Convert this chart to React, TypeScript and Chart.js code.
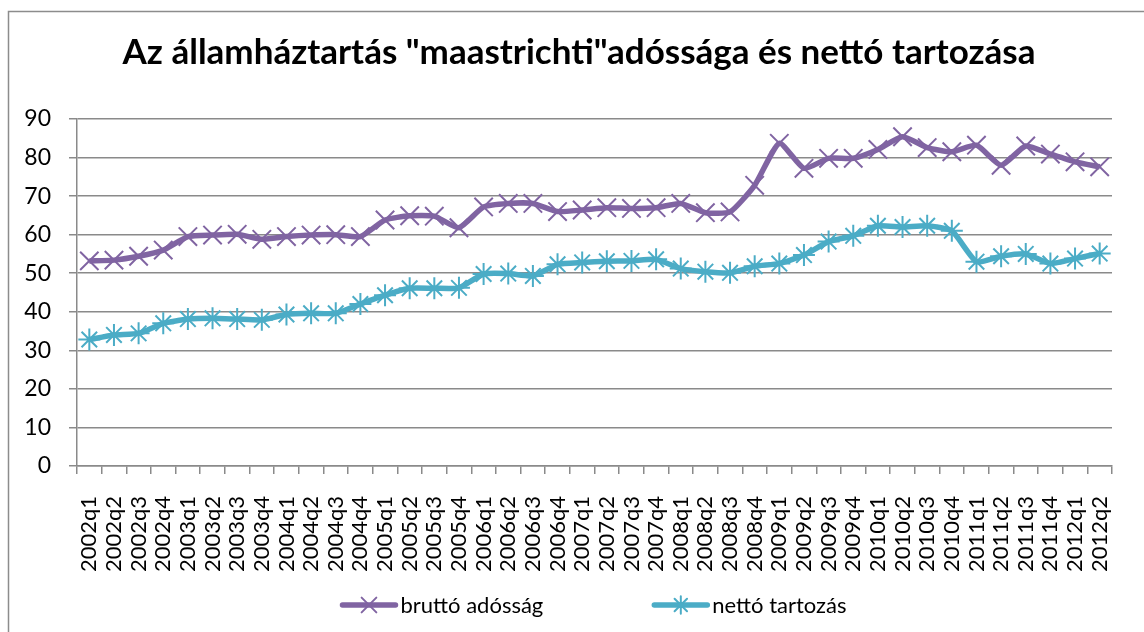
import React, { useEffect, useRef } from "react";
import { Chart, registerables } from "chart.js";
import { drawPoint } from "chart.js/helpers";

Chart.register(...registerables);

const categories = [
  "2002q1", "2002q2", "2002q3", "2002q4",
  "2003q1", "2003q2", "2003q3", "2003q4",
  "2004q1", "2004q2", "2004q3", "2004q4",
  "2005q1", "2005q2", "2005q3", "2005q4",
  "2006q1", "2006q2", "2006q3", "2006q4",
  "2007q1", "2007q2", "2007q3", "2007q4",
  "2008q1", "2008q2", "2008q3", "2008q4",
  "2009q1", "2009q2", "2009q3", "2009q4",
  "2010q1", "2010q2", "2010q3", "2010q4",
  "2011q1", "2011q2", "2011q3", "2011q4",
  "2012q1", "2012q2",
];

const bruttoAdossag = [
  53.2, 53.4, 54.4, 56.0,
  59.5, 59.9, 60.1, 58.8,
  59.5, 59.9, 60.0, 59.5,
  63.8, 64.9, 64.8, 61.8,
  67.2, 68.1, 68.1, 66.0,
  66.4, 67.0, 66.8, 67.0,
  68.1, 65.7, 65.9, 72.8,
  83.7, 77.2, 79.8, 79.8,
  82.1, 85.4, 82.6, 81.5,
  83.2, 78.0, 83.0, 80.9,
  78.9, 77.6,
];

const nettoTartozas = [
  32.8, 34.0, 34.4, 37.0,
  38.1, 38.3, 38.1, 37.9,
  39.3, 39.6, 39.6, 42.0,
  44.3, 46.1, 46.1, 46.2,
  49.8, 49.9, 49.3, 52.3,
  52.8, 53.1, 53.2, 53.6,
  51.2, 50.4, 50.1, 51.8,
  52.5, 54.7, 58.2, 59.7,
  62.3, 62.0, 62.3, 61.0,
  53.0, 54.4, 55.0, 52.5,
  53.8, 55.1,
];

const seriesNames = ["bruttó adósság", "nettó tartozás"];
const yTicks = [0, 10, 20, 30, 40, 50, 60, 70, 80, 90];
const titleText = 'Az államháztartás "maastrichti"adóssága és nettó tartozása';

const PURPLE = "#8064A2";
const TEAL = "#4BACC6";
const GRID = "#8a8a8a";
const FONT = "Lato, 'Open Sans', sans-serif";

export default function App() {
  const ref = useRef<HTMLCanvasElement | null>(null);

  useEffect(() => {
    const canvas = ref.current;
    if (!canvas) return;

    const framePlugin = {
      id: "frame",
      beforeDraw(chart: any) {
        const ctx = chart.ctx;
        ctx.save();
        ctx.fillStyle = "#ffffff";
        ctx.fillRect(0, 0, chart.width, chart.height);
        ctx.strokeStyle = "#8c8c8c";
        ctx.lineWidth = 1.5;
        ctx.strokeRect(8.5, 11.5, chart.width + 20, chart.height + 20);
        ctx.restore();
      },
    };

    const titlePlugin = {
      id: "customTitle",
      afterDraw(chart: any) {
        const ctx = chart.ctx;
        ctx.save();
        ctx.fillStyle = "#000";
        ctx.font = `bold 35px ${FONT}`;
        ctx.textAlign = "center";
        ctx.textBaseline = "alphabetic";
        ctx.fillText(titleText, 579, 64);
        ctx.restore();
      },
    };

    const legendPlugin = {
      id: "customLegend",
      afterDraw(chart: any) {
        const ctx = chart.ctx;
        ctx.save();
        ctx.font = `22px ${FONT}`;
        const lineLen = 53;
        const textGap = 5;
        const itemGap = 111;
        const items = chart.data.datasets.map((ds: any) => ({
          ds,
          w: lineLen + textGap + ctx.measureText(ds.label).width,
        }));
        const total = items.reduce((s: number, it: any) => s + it.w, 0) + itemGap * (items.length - 1);
        const cx = (chart.chartArea.left + chart.chartArea.right) / 2;
        let x = cx - total / 2;
        const y = 605;
        for (const it of items) {
          const ds = it.ds;
          ctx.strokeStyle = ds.borderColor;
          ctx.lineWidth = ds.borderWidth;
          ctx.lineCap = "round";
          ctx.beginPath();
          ctx.moveTo(x, y);
          ctx.lineTo(x + lineLen, y);
          ctx.stroke();
          ctx.strokeStyle = ds.pointBorderColor;
          ctx.fillStyle = ds.pointBorderColor;
          ctx.lineWidth = ds.pointBorderWidth;
          drawPoint(ctx, { pointStyle: ds.pointStyle, rotation: 0, borderWidth: ds.pointBorderWidth, radius: ds.pointRadius * 0.8 } as any, x + lineLen / 2, y);
          ctx.fillStyle = "#000";
          ctx.textAlign = "left";
          ctx.textBaseline = "middle";
          ctx.fillText(ds.label, x + lineLen + textGap, y + 1);
          x += it.w + itemGap;
        }
        ctx.restore();
      },
    };

    const chart = new Chart(canvas, {
      type: "line",
      data: {
        labels: categories,
        datasets: [
          {
            label: seriesNames[0],
            data: bruttoAdossag,
            borderColor: PURPLE,
            backgroundColor: PURPLE,
            borderWidth: 5.5,
            tension: 0.18,
            pointStyle: "crossRot",
            pointRadius: 13,
            pointBorderWidth: 2,
            pointBorderColor: PURPLE,
            pointBackgroundColor: PURPLE,
            pointHoverRadius: 13,
          },
          {
            label: seriesNames[1],
            data: nettoTartozas,
            borderColor: TEAL,
            backgroundColor: TEAL,
            borderWidth: 5.5,
            tension: 0.18,
            pointStyle: "star",
            pointRadius: 11,
            pointBorderWidth: 2,
            pointBorderColor: TEAL,
            pointBackgroundColor: TEAL,
            pointHoverRadius: 11,
          },
        ],
      },
      options: {
        animation: false,
        responsive: false,
        maintainAspectRatio: false,
        devicePixelRatio: 1,
        layout: { padding: { top: 119, right: 32, bottom: 0, left: 0 } },
        plugins: {
          legend: { display: false },
          title: { display: false },
          tooltip: { enabled: false },
        },
        scales: {
          x: {
            type: "category",
            offset: true,
            grid: {
              offset: true,
              drawOnChartArea: false,
              drawTicks: true,
              tickLength: 8,
              color: GRID,
              lineWidth: 1.5,
            },
            border: { display: true, color: GRID, width: 1.5 },
            ticks: {
              autoSkip: false,
              maxRotation: 90,
              minRotation: 90,
              padding: 22,
              color: "#000",
              font: { family: FONT, size: 22 },
            },
            afterFit(scale: any) {
              scale.height = 632 - 466;
              scale.paddingLeft = 0;
              scale.paddingRight = 0;
            },
          },
          y: {
            min: 0,
            max: 90,
            afterBuildTicks(scale: any) {
              scale.ticks = yTicks.map((v) => ({ value: v }));
            },
            grid: {
              drawOnChartArea: true,
              drawTicks: true,
              tickLength: 8,
              color: GRID,
              lineWidth: 1.5,
            },
            border: { display: true, color: GRID, width: 1.5 },
            ticks: {
              padding: 18,
              color: "#000",
              font: { family: FONT, size: 23 },
            },
            afterFit(scale: any) {
              scale.width = 77;
            },
          },
        },
      },
      plugins: [framePlugin, titlePlugin, legendPlugin],
    });

    return () => chart.destroy();
  }, []);

  return (
    <div style={{ position: "absolute", left: 0, top: 0, width: 1144, height: 632 }}>
      <canvas ref={ref} width={1144} height={632} style={{ display: "block", width: 1144, height: 632 }} />
    </div>
  );
}
